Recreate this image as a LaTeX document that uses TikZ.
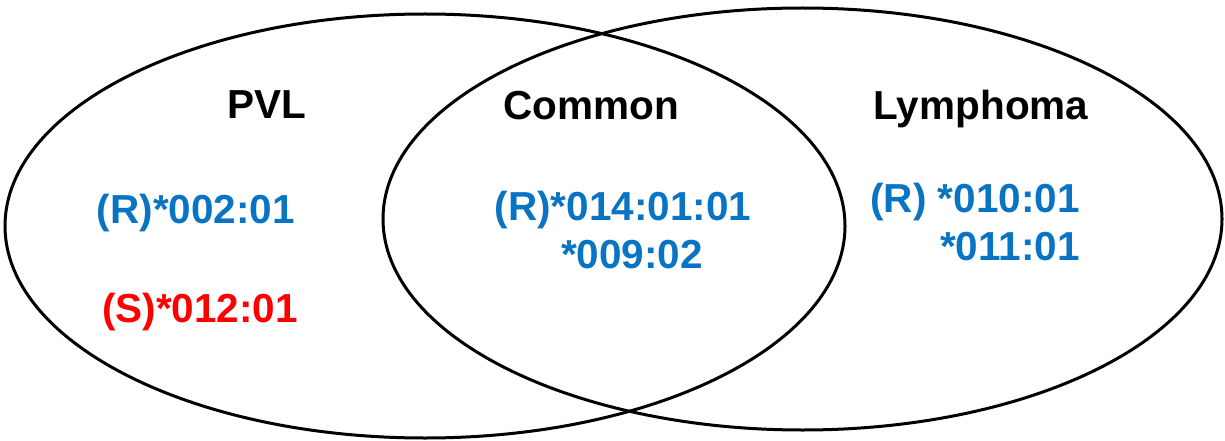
\documentclass[tikz,border=0pt]{standalone}
\usepackage{fontspec}
\setmainfont{Liberation Sans}
\usetikzlibrary{shapes.geometric}
\definecolor{allblue}{HTML}{0A74C4}
\definecolor{allred}{HTML}{FF0000}
\tikzset{
  setring/.style={ellipse, draw=black, line width=3pt, inner sep=0pt},
  title/.style={font=\fontsize{40.5}{45}\selectfont\bfseries, text=black, inner sep=0pt},
  allele/.style={font=\fontsize{40.5}{45}\selectfont\bfseries, text=allblue, inner sep=0pt},
  sallele/.style={allele, text=allred}
}
\begin{document}
\begin{tikzpicture}[x=1pt,y=-1pt]
\useasboundingbox (0,0) rectangle (1225,441);
\fill[white] (0,0) rectangle (1225,441);
\node[setring, minimum width=840pt, minimum height=424pt] (left) at (425,226) {};
\node[setring, minimum width=839pt, minimum height=422pt] (right) at (802.5,219) {};
\node[title, anchor=base] (pvl) at (267,119) {PVL};
\node[title, anchor=base] (common) at (591,120) {Common};
\node[title, anchor=base] (lymph) at (981,120) {Lymphoma};
\node[allele, anchor=base] (a1) at (196,223) {(R)*002:01};
\node[sallele, anchor=base] (a2) at (200,322) {(S)*012:01};
\node[allele, anchor=base] (c1) at (623,220) {(R)*014:01:01};
\node[allele, anchor=base] (c2) at (632,268) {*009:02};
\node[allele, anchor=base east] (l1) at (1080,212) {(R) *010:01};
\node[allele, anchor=base east] (l2) at (1080,260) {*011:01};
\end{tikzpicture}
\end{document}
